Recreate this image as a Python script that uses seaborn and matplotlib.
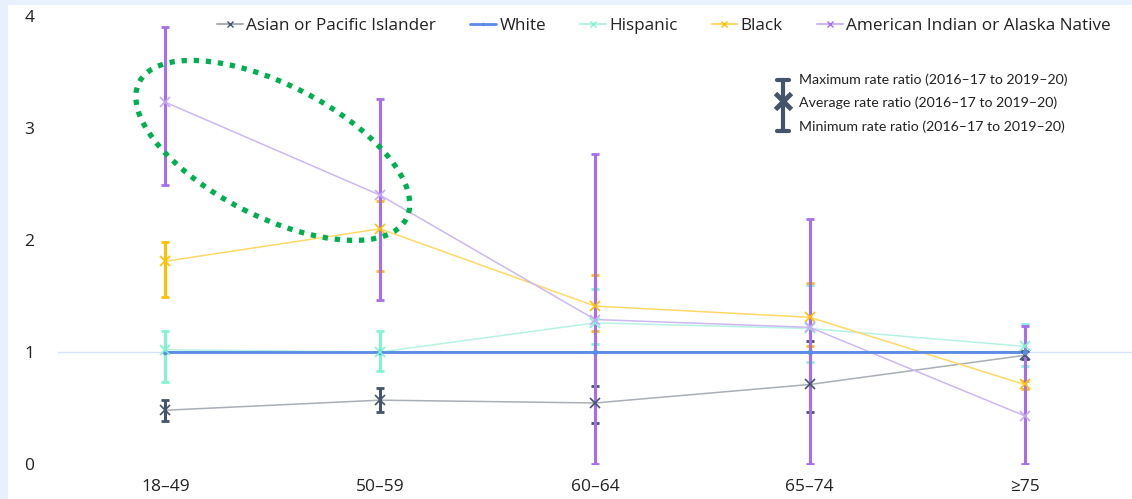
import numpy as np
import pandas as pd
import matplotlib
matplotlib.use('Agg')
import matplotlib.pyplot as plt
import seaborn as sns
from matplotlib.patches import Ellipse, Rectangle
from matplotlib.lines import Line2D
from matplotlib.transforms import IdentityTransform

ages = ['18–49', '50–59', '60–64', '65–74', '≥75']
groups = ['Asian or Pacific Islander', 'White', 'Hispanic', 'Black',
          'American Indian or Alaska Native']

# average / max / min rate ratios per group
asian_avg = [0.48, 0.57, 0.545, 0.71, 0.97]
asian_max = [0.57, 0.68, 0.70, 1.10, 1.01]
asian_min = [0.38, 0.46, 0.37, 0.46, 0.94]

white_avg = [1.0, 1.0, 1.0, 1.0, 1.0]
white_max = [1.0, 1.0, 1.0, 1.0, 1.0]
white_min = [1.0, 1.0, 1.0, 1.0, 1.0]

hisp_avg = [1.02, 1.00, 1.26, 1.21, 1.05]
hisp_max = [1.19, 1.19, 1.56, 1.60, 1.25]
hisp_min = [0.73, 0.83, 1.07, 0.91, 0.875]

black_avg = [1.81, 2.10, 1.41, 1.31, 0.71]
black_max = [1.98, 2.35, 1.69, 1.62, 0.74]
black_min = [1.49, 1.72, 1.19, 1.05, 0.67]

aian_avg = [3.23, 2.40, 1.29, 1.22, 0.43]
aian_max = [3.90, 3.26, 2.77, 2.19, 1.23]
aian_min = [2.49, 1.46, 0.0, 0.0, 0.0]

line_colors = ['#a9afb7', '#5b8be6', '#b6f3e4', '#ffd966', '#cdb8f2']
bar_colors = ['#44546a', '#5b8be6', '#7ff5d2', '#ffc000', '#a86cf0']

series = [
    (asian_avg, asian_max, asian_min),
    (white_avg, white_max, white_min),
    (hisp_avg, hisp_max, hisp_min),
    (black_avg, black_max, black_min),
    (aian_avg, aian_max, aian_min),
]

rows = []
for g, (avg, mx, mn) in zip(groups, series):
    for a, v in zip(ages, avg):
        rows.append({'Age': a, 'Group': g, 'Rate ratio': v})
df = pd.DataFrame(rows)

sns.set_theme(style='white')
plt.rcParams['font.family'] = ['Open Sans', 'DejaVu Sans']

fig = plt.figure(figsize=(11.32, 4.99), dpi=100)
fig.patch.set_facecolor('#e8f0fd')
fig.patches.append(Rectangle((8 / 1132, 0), 1, 1 - 5 / 499, transform=fig.transFigure,
                             facecolor='white', edgecolor='none', zorder=-10))
ax = fig.add_axes([58 / 1132, 35 / 499, 1 - 58 / 1132, 448 / 499])
ax.patch.set_alpha(0)

ax.axhline(1, color='#d6e2f5', lw=1, zorder=0)

# error bars first (per group)
for i, (g, (avg, mx, mn)) in enumerate(zip(groups, series)):
    if g == 'White':
        continue
    yerr = [np.array(avg) - np.array(mn), np.array(mx) - np.array(avg)]
    ax.errorbar(ages, avg, yerr=yerr, fmt='none', ecolor=bar_colors[i],
                elinewidth=2.2, capsize=3, capthick=2, zorder=3)

pal = dict(zip(groups, line_colors))
sns.lineplot(data=df, x='Age', y='Rate ratio', hue='Group', palette=pal,
             sort=False, lw=1.1, ax=ax, legend=False, zorder=2)
# mean markers
for i, (g, (avg, mx, mn)) in enumerate(zip(groups, series)):
    if g == 'White':
        ax.plot(ages, avg, color=bar_colors[i], lw=2, zorder=4)
        ax.plot(ages, avg, ls='none', marker='o', ms=3, color=bar_colors[i], zorder=5)
    else:
        ax.plot(ages, avg, ls='none', marker='x', ms=7, mew=1.2,
                color=bar_colors[i] if g != 'American Indian or Alaska Native' else '#c9a8f5',
                zorder=5)

ax.set_xlim(-0.5, 4.5)
ax.set_ylim(0, 4)
ax.set_yticks([0, 1, 2, 3, 4])
ax.set_xlabel('')
ax.set_ylabel('')
for s in ax.spines.values():
    s.set_visible(False)
ax.tick_params(axis='both', length=0, labelsize=12.5, colors='#222222')
ax.tick_params(axis='y', pad=17)
ax.tick_params(axis='x', pad=11)

# top legend
handles = []
for i, g in enumerate(groups):
    if g == 'White':
        h = Line2D([], [], color=line_colors[i], lw=2, marker='.', ms=3)
    else:
        h = Line2D([], [], color=line_colors[i], lw=1.5, marker='x', ms=5,
                   mec=bar_colors[i])
    handles.append(h)
leg = fig.legend(handles, groups, loc='center', bbox_to_anchor=(664 / 1132, 1 - 26 / 499),
                 ncol=5, frameon=False, fontsize=12.3, handlelength=1.5,
                 handletextpad=0.2, columnspacing=2.0, borderpad=0)
for t in leg.get_texts():
    t.set_color('#222222')

# error bar key
kc = '#44546a'
kx, ky = 783, 101
fig.add_artist(Line2D([kx / 1132, kx / 1132], [1 - 80 / 499, 1 - 131 / 499], color=kc, lw=3))
for yy in (80, 131):
    fig.add_artist(Line2D([(kx - 6) / 1132, (kx + 6) / 1132], [1 - yy / 499, 1 - yy / 499], color=kc, lw=3))
fig.add_artist(Line2D([kx / 1132], [1 - ky / 499], marker='x', ms=11, mew=3.5, color=kc))
for txt, yy in [('Maximum rate ratio (2016–17 to 2019–20)', 80),
                ('Average rate ratio (2016–17 to 2019–20)', 103),
                ('Minimum rate ratio (2016–17 to 2019–20)', 127)]:
    fig.text(799 / 1132, 1 - yy / 499, txt, fontsize=10.2, family=['Lato', 'DejaVu Sans'],
             va='center', ha='left', color='#222222')

# dotted highlight ellipse around the AIAN drop
fig.canvas.draw()
cx, cy = ax.transData.transform((0.5, 2.8))
ell = Ellipse((cx, cy), width=300, height=132, angle=-27, transform=IdentityTransform(),
              fill=False, edgecolor='#00b050', lw=3.8, linestyle=(0, (1, 1.3)), zorder=6)
ell.set_capstyle('butt')
fig.add_artist(ell)

fig.savefig('out.png', dpi=100)
